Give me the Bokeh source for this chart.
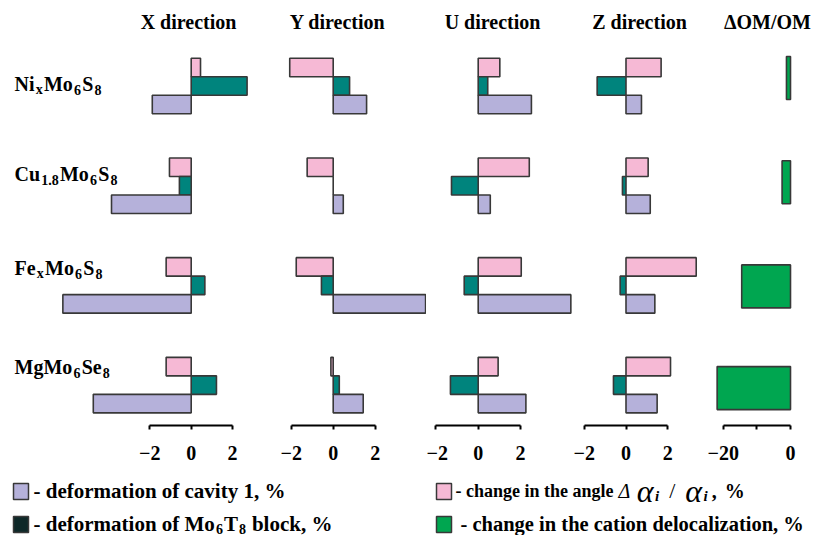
import numpy as np
from bokeh.plotting import figure
from bokeh.layouts import row, column
from bokeh.models import Range1d, FixedTicker, ColumnDataSource
from bokeh.core.properties import value
from bokeh.transform import dodge
from bokeh.embed import file_html
from bokeh.resources import INLINE

# ---------------- data ----------------
compounds = ["NixMo6S8", "Cu1.8Mo6S8", "FexMo6S8", "MgMo6Se8"]
directions = ["X direction", "Y direction", "U direction", "Z direction"]
om_title = "\u0394OM/OM"

# change in the angle  d(alpha_i)/alpha_i, %   (pink)
angle_x = [0.45, -1.05, -1.21, -1.21]
angle_y = [-2.07, -1.24, -1.76, -0.11]
angle_u = [1.02, 2.41, 2.03, 0.94]
angle_z = [1.68, 1.06, 3.36, 2.13]

# deformation of Mo6T8 block, %   (teal)
block_x = [2.70, -0.57, 0.66, 1.22]
block_y = [0.78, 0.00, -0.56, 0.29]
block_u = [0.45, -1.26, -0.66, -1.31]
block_z = [-1.38, -0.17, -0.28, -0.60]

# deformation of cavity 1, %   (lavender)
cavity_x = [-1.88, -3.85, -6.20, -4.73]
cavity_y = [1.59, 0.48, 4.40, 1.43]
cavity_u = [2.51, 0.57, 4.37, 2.25]
cavity_z = [0.74, 1.16, 1.38, 1.49]

# change in the cation delocalization, %   (green)
om_change = [-1.2, -2.5, -14.5, -21.8]

dir_ticks = [-2, 0, 2]
dir_tick_labels = ["\u22122", "0", "2"]
om_ticks = [-20, -10, 0]
om_tick_labels = ["\u221220", "", "0"]

# row-label pieces: (text, is_subscript)
label_parts = [
    [("Ni", 0), ("x", 1), ("Mo", 0), ("6", 1), ("S", 0), ("8", 1)],
    [("Cu", 0), ("1.8", 1), ("Mo", 0), ("6", 1), ("S", 0), ("8", 1)],
    [("Fe", 0), ("x", 1), ("Mo", 0), ("6", 1), ("S", 0), ("8", 1)],
    [("MgMo", 0), ("6", 1), ("Se", 0), ("8", 1)],
]

angle_all = [angle_x, angle_y, angle_u, angle_z]
block_all = [block_x, block_y, block_u, block_z]
cavity_all = [cavity_x, cavity_y, cavity_u, cavity_z]

# ---------------- style ----------------
PINK = "#F6B9D5"
TEAL = "#00847D"
LAV = "#B5B1DA"
GREEN = "#00A650"
DARK = "#0E2828"
EDGE = "#383838"
FONT = "Liberation Serif"

# ---------------- layout (page pixels) ----------------
ROW_PX = 99.7
ROW0_PX = 85.5
BAR_PX = 18.5
GREEN_PX = 43.0
GREEN_DY = [-8.0, -3.5, 1.0, 3.0]            # green bar centre vs row centre (px)
TOP_PX = 0
AXIS_PX = 425
FIG_H = 470
TOTAL_W = 814
TOTAL_H = 535
TEXT_DY = -7.0                                 # svg baseline correction (px)
LABEL_BASE_DY = [4.5, -5.0, -10.5, -11.5]      # baseline of row labels vs row centre (px)

def ypos(py):
    return (py - ROW0_PX) / ROW_PX

BH = BAR_PX / ROW_PX

cols = [
    dict(left=0,   right=262, zero=190.7, ppu=20.7,  title_px=188),
    dict(left=262, right=426, zero=332.7, ppu=21.0,  title_px=337),
    dict(left=426, right=572, zero=477.7, ppu=21.2,  title_px=492),
    dict(left=572, right=703, zero=625.5, ppu=20.9,  title_px=639),
    dict(left=703, right=TOTAL_W, zero=790.0, ppu=3.365, title_px=767),
]

W = {}
for ch, w in zip("ABCDEFGHIJKLMNOPQRSTUVWXYZ",
                 [722,667,722,722,667,611,778,778,389,500,778,667,944,722,778,611,778,722,556,667,722,722,1000,722,722,667]):
    W[ch] = w
for ch, w in zip("abcdefghijklmnopqrstuvwxyz",
                 [500,556,444,556,444,333,500,556,278,333,556,278,833,556,500,556,556,444,389,333,556,500,722,500,500,444]):
    W[ch] = w
for ch in "0123456789":
    W[ch] = 500
W.update({" ": 250, ",": 250, ".": 250, "-": 333, "%": 1000, "/": 278, "\u0394": 612, "\u03b1": 540})

def tw(s, size):
    return sum(W.get(c, 500) for c in s) / 1000.0 * size

yr = Range1d(start=ypos(AXIS_PX), end=ypos(TOP_PX))
rows_idx = list(range(len(compounds)))

def make_fig(c):
    xr = Range1d(start=(c["left"] - c["zero"]) / c["ppu"], end=(c["right"] - c["zero"]) / c["ppu"])
    p = figure(width=c["right"] - c["left"], height=FIG_H, x_range=xr, y_range=yr,
               output_backend="svg", toolbar_location=None, y_axis_location=None,
               min_border=0, min_border_bottom=FIG_H - (AXIS_PX - TOP_PX))
    p.grid.visible = False
    p.outline_line_color = None
    p.background_fill_color = "white"
    p.border_fill_color = "white"
    return p

def style_axis(p, ticks, labels, bounds):
    ax = p.xaxis[0]
    ax.ticker = FixedTicker(ticks=ticks, minor_ticks=[])
    ax.bounds = bounds
    ax.major_label_overrides = {float(t): l for t, l in zip(ticks, labels)}
    ax.axis_line_color = "black"
    ax.axis_line_width = 2
    ax.major_tick_line_color = "black"
    ax.major_tick_line_width = 2
    ax.major_tick_in = 0
    ax.major_tick_out = 4
    ax.minor_tick_out = 0
    ax.minor_tick_in = 0
    ax.major_label_standoff = 16
    ax.major_label_text_font = FONT
    ax.major_label_text_font_style = "bold"
    ax.major_label_text_font_size = "20px"
    ax.major_label_text_color = "black"

def put_title(p, c, text, align="center"):
    p.text(x=[(c["title_px"] - c["zero"]) / c["ppu"]], y=[ypos(28.5)], text=[text], y_offset=TEXT_DY,
           text_font=value(FONT), text_font_size="20px", text_font_style="bold",
           text_align=align, text_baseline="alphabetic", text_color="black")

figs = []
for k in range(4):
    c = cols[k]
    p = make_fig(c)
    src = ColumnDataSource(dict(row=rows_idx, angle=angle_all[k], block=block_all[k], cavity=cavity_all[k]))
    bar_kw = dict(left=0, height=BH, source=src, line_color=EDGE, line_width=1.6)
    p.hbar(y=dodge("row", -BH), right="angle", fill_color=PINK, **bar_kw)
    p.hbar(y="row", right="block", fill_color=TEAL, **bar_kw)
    p.hbar(y=dodge("row", BH), right="cavity", fill_color=LAV, **bar_kw)
    style_axis(p, dir_ticks, dir_tick_labels, (-2, 2))
    put_title(p, c, directions[k])
    figs.append(p)

c = cols[4]
pom = make_fig(c)
src_om = ColumnDataSource(dict(row=rows_idx, om=om_change,
                               yc=[i + d / ROW_PX for i, d in zip(rows_idx, GREEN_DY)]))
pom.hbar(y="yc", left=0, right="om", height=GREEN_PX / ROW_PX, source=src_om,
         fill_color=GREEN, line_color=EDGE, line_width=1.6)
style_axis(pom, om_ticks, om_tick_labels, (-20, 0))
put_title(pom, c, om_title)
figs.append(pom)

# row labels with subscripts, inside the first panel
pX = figs[0]
BASE_SIZE, SUB_SIZE = 20, 14
for i, parts in enumerate(label_parts):
    off = 14.0
    for text, sub in parts:
        size = SUB_SIZE if sub else BASE_SIZE
        pX.text(x=[pX.x_range.start], y=[i], text=[text], x_offset=off,
                y_offset=LABEL_BASE_DY[i] + TEXT_DY + (6 if sub else 0),
                text_font=value(FONT), text_font_size=f"{size}px", text_font_style="bold",
                text_align="left", text_baseline="alphabetic", text_color="black")
        off += tw(text, size) + 1.2

# ---------------- legend panel ----------------
LEG_H = TOTAL_H - FIG_H
leg = figure(width=TOTAL_W, height=LEG_H, x_range=Range1d(0, TOTAL_W), y_range=Range1d(TOTAL_H, FIG_H),
             output_backend="svg", toolbar_location=None, x_axis_location=None,
             y_axis_location=None, min_border=0)
leg.grid.visible = False
leg.outline_line_color = None

sw_left = [13, 436, 13, 436]
sw_top = [483, 483, 516, 516]
sw_colors = [LAV, PINK, DARK, GREEN]
leg.quad(left=sw_left, right=[v + 15 for v in sw_left], top=sw_top, bottom=[v + 16 for v in sw_top],
         fill_color=sw_colors, line_color=EDGE, line_width=1.5)

def put_pieces(p, x0, base, pieces):
    # pieces: (text, size, style, dy, gap_before)
    x = x0
    for text, size, style, dy, gap in pieces:
        x += gap
        p.text(x=[x], y=[base], text=[text], y_offset=dy + TEXT_DY, text_font=value(FONT),
               text_font_size=f"{size}px", text_font_style=style, text_align="left",
               text_baseline="alphabetic", text_color="black")
        x += tw(text, size)

put_pieces(leg, 33, 497, [("- deformation of cavity 1, %", 21, "bold", 0, 0)])
put_pieces(leg, 33, 530, [("- deformation of Mo", 21, "bold", 0, 0), ("6", 14, "bold", 5, 1),
                          ("T", 21, "bold", 0, 1), ("8", 14, "bold", 5, 1), ("block, %", 21, "bold", 0, 6)])
put_pieces(leg, 455, 497, [("- change in the angle", 18, "bold", 0, 0), ("\u0394", 20, "italic", 0, 5),
                           ("\u03b1", 32, "italic", 0, 6), ("i", 15, "bold italic", 5, 1),
                           ("/", 22, "normal", 0, 10), ("\u03b1", 32, "italic", 0, 10),
                           ("i", 15, "bold italic", 5, 1), (",", 20, "bold", 0, 4), ("%", 20, "bold", 0, 8)])
put_pieces(leg, 460, 530, [("- change in the cation delocalization, %", 20.5, "bold", 0, 0)])

layout = column(row(*figs), leg)
open("out.html", "w").write(file_html(layout, INLINE))
